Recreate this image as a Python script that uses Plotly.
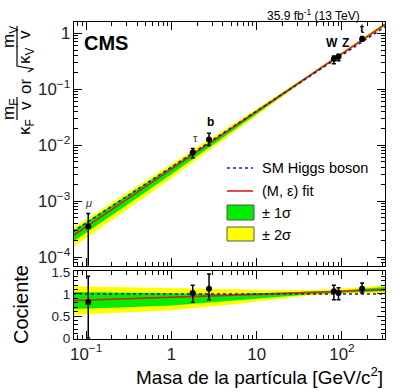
import plotly.graph_objects as go
from plotly.subplots import make_subplots

# ---------------- data ----------------
particles = ["μ", "τ", "b", "W", "Z", "t"]
mass = [0.1057, 1.777, 2.76, 80.4, 91.19, 172.5]
# top panel: reduced couplings
coupling = [3.5e-4, 7.4e-3, 1.26e-2, 0.346, 0.378, 0.785]
coupling_up = [2.5e-4, 1.3e-3, 3.7e-3, 0.046, 0.044, 0.091]
coupling_dn = [3.4e-4, 1.5e-3, 2.8e-3, 0.062, 0.056, 0.070]
# bottom panel: ratio to SM
ratio = [0.81, 1.02, 1.12, 1.06, 1.02, 1.12]
ratio_up = [0.59, 0.18, 0.33, 0.14, 0.12, 0.13]
ratio_dn = [0.81, 0.21, 0.25, 0.19, 0.15, 0.10]

# SM line (m / v) endpoints
sm_x = [0.07, 330.0]
sm_y = [2.84e-4, 1.34]
vev = 246.22

# fit and uncertainty bands (as ratio to SM) at read nodes
node_x = [0.07, 0.3, 1.0, 4.5, 15, 40, 100, 330]
fit_r = [0.85, 0.888, 0.922, 0.966, 1.003, 1.034, 1.063, 1.10]
s2_hi = [1.175, 1.15, 1.13, 1.10, 1.09, 1.09, 1.12, 1.20]
s2_lo = [0.53, 0.58, 0.63, 0.75, 0.87, 0.96, 1.00, 1.02]
s1_hi = [1.045, 1.03, 1.02, 1.00, 1.03, 1.05, 1.08, 1.16]
s1_lo = [0.66, 0.70, 0.74, 0.84, 0.92, 0.99, 1.03, 1.06]

# ---------------- layout helpers ----------------
W, H = 400, 392
L, R, T, B = 74, 385, 22, 339
def px(x):
    return (x - L) / (R - L)
def py(y):
    return (B - y) / (B - T)

FONT = "Liberation Sans, Arial, sans-serif"
GREEN = "#00ee00"
YELLOW = "#ffff00"
RED = "#e0201b"
BLUE = "#1a1aa6"

fig = make_subplots(rows=2, cols=1, shared_xaxes=False, vertical_spacing=0.0,
                    row_heights=[0.77, 0.23])

def scaled(vals):
    return [v * x / vev for v, x in zip(vals, node_x)]

# --- top panel bands ---
fig.add_trace(go.Scatter(x=node_x + node_x[::-1], y=scaled(s2_hi) + scaled(s2_lo)[::-1],
                         fill="toself", fillcolor=YELLOW, line=dict(width=0),
                         mode="lines", hoverinfo="skip", showlegend=False), row=1, col=1)
fig.add_trace(go.Scatter(x=node_x + node_x[::-1], y=scaled(s1_hi) + scaled(s1_lo)[::-1],
                         fill="toself", fillcolor=GREEN, line=dict(width=0),
                         mode="lines", hoverinfo="skip", showlegend=False), row=1, col=1)
fig.add_trace(go.Scatter(x=node_x, y=scaled(fit_r), mode="lines",
                         line=dict(color=RED, width=1.6), showlegend=False), row=1, col=1)
fig.add_trace(go.Scatter(x=sm_x, y=sm_y, mode="lines",
                         line=dict(color=BLUE, width=1.6, dash="dot"), showlegend=False), row=1, col=1)
fig.add_trace(go.Scatter(x=mass, y=coupling, mode="markers",
                         marker=dict(color="black", size=6),
                         error_y=dict(type="data", symmetric=False, array=coupling_up,
                                      arrayminus=coupling_dn, color="black", thickness=1.5, width=2),
                         showlegend=False), row=1, col=1)

# --- bottom panel ---
fig.add_trace(go.Scatter(x=node_x + node_x[::-1], y=s2_hi + s2_lo[::-1],
                         fill="toself", fillcolor=YELLOW, line=dict(width=0),
                         mode="lines", hoverinfo="skip", showlegend=False), row=2, col=1)
fig.add_trace(go.Scatter(x=node_x + node_x[::-1], y=s1_hi + s1_lo[::-1],
                         fill="toself", fillcolor=GREEN, line=dict(width=0),
                         mode="lines", hoverinfo="skip", showlegend=False), row=2, col=1)
fig.add_trace(go.Scatter(x=node_x, y=fit_r, mode="lines",
                         line=dict(color=RED, width=1.6), showlegend=False), row=2, col=1)
fig.add_trace(go.Scatter(x=sm_x, y=[1, 1], mode="lines",
                         line=dict(color=BLUE, width=1.6, dash="dot"), showlegend=False), row=2, col=1)
fig.add_trace(go.Scatter(x=mass, y=ratio, mode="markers",
                         marker=dict(color="black", size=6),
                         error_y=dict(type="data", symmetric=False, array=ratio_up,
                                      arrayminus=ratio_dn, color="black", thickness=1.5, width=2),
                         showlegend=False), row=2, col=1)

axis_common = dict(showline=True, linecolor="black", linewidth=1, mirror="ticks",
                   ticks="inside", ticklen=8, tickcolor="black", showgrid=False, zeroline=False,
                   tickfont=dict(family=FONT, size=13.5, color="#222"))
xr = [-1.143, 2.505]
fig.update_xaxes(type="log", range=xr, dtick=1, exponentformat="power",
                 minor=dict(ticks="inside", ticklen=4, dtick="D1", tickcolor="black", showgrid=False),
                 **axis_common)
fig.update_xaxes(showticklabels=False, row=1, col=1)
fig.update_yaxes(type="log", range=[-4.16, 0.2], dtick=1, exponentformat="power",
                 minor=dict(ticks="inside", ticklen=4, dtick="D1", tickcolor="black", showgrid=False),
                 row=1, col=1, **axis_common)
fig.update_yaxes(range=[-0.02, 1.52], tick0=0, dtick=0.5,
                 minor=dict(ticks="inside", ticklen=4, dtick=0.1, tickcolor="black", showgrid=False),
                 row=2, col=1, **axis_common)
fig.update_layout(
    yaxis=dict(domain=[py(266), 1.0]),
    yaxis2=dict(domain=[0.0, py(271)]),
)

ann = []
shapes = []
def text(x, y, s, size, xanchor="center", yanchor="middle", angle=0, color="black"):
    ann.append(dict(x=px(x), y=py(y), xref="paper", yref="paper", text=s, showarrow=False,
                    xanchor=xanchor, yanchor=yanchor, textangle=angle,
                    font=dict(family=FONT, size=size, color=color)))

# header texts
text(82, 43, "<b>CMS</b>", 20, xanchor="left")
text(362, 15, "35.9 fb<sup>-1</sup> (13 TeV)", 12, xanchor="right")

# particle labels
text(88, 203, "<i>μ</i>", 11, color="#333")
text(195, 138, "τ", 11, color="#333")
text(210, 122, "<b>b</b>", 12)
text(332, 43, "<b>W</b>", 12)
text(345, 43, "<b>Z</b>", 12)
text(362, 29, "<b>t</b>", 12)

# legend (manual)
shapes.append(dict(type="line", xref="paper", yref="paper", x0=px(227), x1=px(253), y0=py(168), y1=py(168),
                   line=dict(color=BLUE, width=1.6, dash="dot")))
shapes.append(dict(type="line", xref="paper", yref="paper", x0=px(227), x1=px(253), y0=py(191), y1=py(191),
                   line=dict(color=RED, width=1.6)))
shapes.append(dict(type="rect", xref="paper", yref="paper", x0=px(227), x1=px(254), y0=py(205), y1=py(220),
                   fillcolor=GREEN, line=dict(color="#555", width=1)))
shapes.append(dict(type="rect", xref="paper", yref="paper", x0=px(227), x1=px(254), y0=py(227), y1=py(241),
                   fillcolor=YELLOW, line=dict(color="#555", width=1)))
text(260, 168, "SM Higgs boson", 14.5, xanchor="left")
text(260, 191, "(M, ε) fit", 14.5, xanchor="left")
text(260, 213, "± 1σ", 14.5, xanchor="left")
text(260, 235, "± 2σ", 14.5, xanchor="left")

# axis titles
text(385, 376, "Masa de la partícula [GeV/c<sup>2</sup>]", 19, xanchor="right")
text(21, 305, "Cociente", 20, angle=-90)

# y title of top panel (rotated, built from pieces)
TS = 17
text(10, 37, "m<sub>V</sub>", TS, angle=-90)
text(25, 35, "v", TS, angle=-90)
shapes.append(dict(type="line", xref="paper", yref="paper", x0=px(17), x1=px(17), y0=py(26), y1=py(47),
                   line=dict(color="black", width=1.2)))
text(26, 55, "κ<sub>V</sub>", TS, angle=-90)
shapes.append(dict(type="path", xref="paper", yref="paper",
                   path="M {a},{b} L {a},{c} L {d},{e} L {f},{g}".format(
                       a=px(17), b=py(46), c=py(66), d=px(33), e=py(69), f=px(28), g=py(72)),
                   line=dict(color="black", width=1.2)))
text(26, 86, "or", TS, angle=-90)
text(10, 110, "m<sub>F</sub>", TS, angle=-90)
text(25, 106, "v", TS, angle=-90)
shapes.append(dict(type="line", xref="paper", yref="paper", x0=px(17), x1=px(17), y0=py(97), y1=py(120),
                   line=dict(color="black", width=1.2)))
text(26, 127, "κ<sub>F</sub>", TS, angle=-90)

fig.update_layout(
    width=W, height=H,
    margin=dict(l=L, r=W - R, t=T, b=H - B),
    paper_bgcolor="white", plot_bgcolor="white",
    annotations=ann, shapes=shapes, showlegend=False,
)

fig.write_html("out.html", config={"displayModeBar": False},
               post_script="document.body.style.margin='0px';")
